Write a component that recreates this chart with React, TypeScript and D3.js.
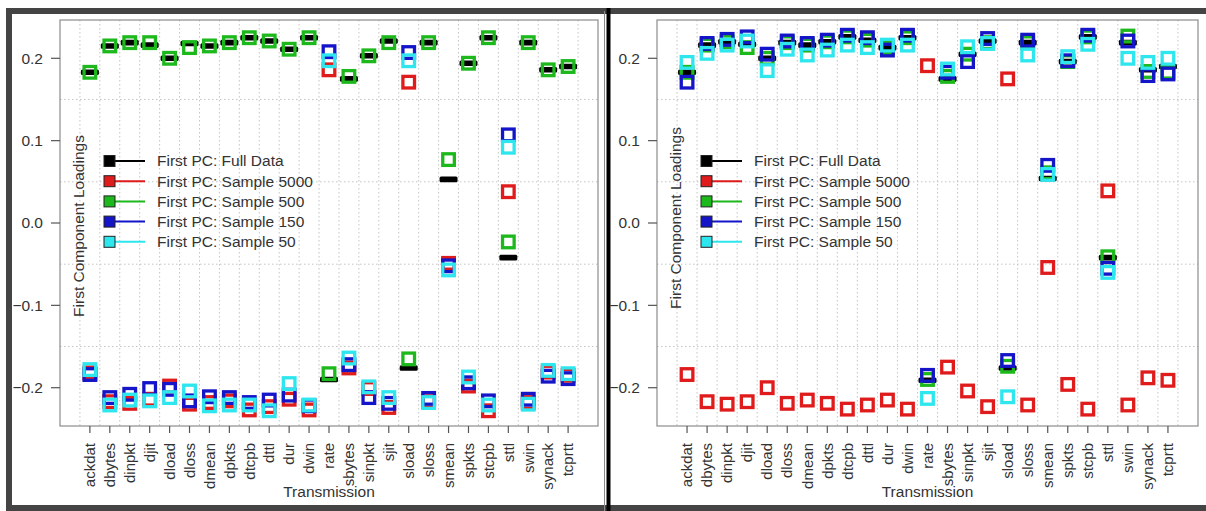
import React from 'react';
import * as d3 from 'd3';

// variable names on the x axis
const categories = [
  'ackdat', 'dbytes', 'dinpkt', 'djit', 'dload', 'dloss', 'dmean', 'dpkts', 'dtcpb',
  'dttl', 'dur', 'dwin', 'rate', 'sbytes', 'sinpkt', 'sjit', 'sload', 'sloss',
  'smean', 'spkts', 'stcpb', 'sttl', 'swin', 'synack', 'tcprtt',
];

const yTicks = [-0.2, -0.1, 0.0, 0.1, 0.2];
const yGrid = [-0.15, -0.05, 0.05, 0.15];

const seriesNames = [
  'First PC: Full Data',
  'First PC: Sample 5000',
  'First PC: Sample 500',
  'First PC: Sample 150',
  'First PC: Sample 50',
];
const seriesColors = ['#000000', '#e01b1b', '#1cb81c', '#1414c8', '#2de6ee'];

// left panel
const leftFull = [0.183, 0.215, 0.219, 0.216, 0.200, 0.218, 0.215, 0.219, 0.225, 0.221, 0.211, 0.225, -0.190, 0.175, 0.203, 0.221, -0.176, 0.219, 0.053, 0.194, 0.225, -0.042, 0.219, 0.186, 0.190];
const left5000 = [-0.182, -0.217, -0.219, -0.214, -0.198, -0.220, -0.218, -0.216, -0.227, -0.223, -0.214, -0.227, 0.186, -0.176, -0.201, -0.224, 0.171, -0.217, -0.049, -0.198, -0.228, 0.038, -0.218, -0.181, -0.185];
const left500 = [0.183, 0.215, 0.219, 0.219, 0.200, 0.213, 0.215, 0.219, 0.225, 0.221, 0.211, 0.225, -0.183, 0.178, 0.203, 0.219, -0.165, 0.219, 0.077, 0.194, 0.225, -0.023, 0.219, 0.186, 0.190];
const left150 = [-0.184, -0.212, -0.208, -0.201, -0.202, -0.216, -0.211, -0.212, -0.218, -0.215, -0.209, -0.222, 0.208, -0.172, -0.212, -0.219, 0.207, -0.213, -0.052, -0.194, -0.216, 0.107, -0.214, -0.186, -0.189];
const left50 = [-0.178, -0.221, -0.215, -0.216, -0.212, -0.204, -0.222, -0.221, -0.221, -0.228, -0.195, -0.221, 0.197, -0.164, -0.199, -0.212, 0.197, -0.218, -0.057, -0.187, -0.221, 0.092, -0.220, -0.179, -0.183];

// right panel
const rightFull = [0.183, 0.216, 0.220, 0.217, 0.200, 0.219, 0.216, 0.220, 0.226, 0.222, 0.213, 0.225, -0.191, 0.175, 0.205, 0.221, -0.176, 0.219, 0.054, 0.196, 0.226, -0.042, 0.219, 0.186, 0.190];
const right5000 = [-0.184, -0.217, -0.220, -0.217, -0.200, -0.219, -0.215, -0.219, -0.226, -0.221, -0.215, -0.226, 0.191, -0.175, -0.204, -0.223, 0.175, -0.221, -0.054, -0.196, -0.226, 0.039, -0.221, -0.188, -0.191];
const right500 = [0.183, 0.216, 0.220, 0.213, 0.200, 0.219, 0.216, 0.220, 0.226, 0.222, 0.213, 0.225, -0.190, 0.178, 0.205, 0.219, -0.174, 0.219, 0.061, 0.196, 0.226, -0.041, 0.227, 0.184, 0.183];
const right150 = [0.171, 0.218, 0.223, 0.226, 0.205, 0.221, 0.218, 0.222, 0.228, 0.225, 0.210, 0.228, -0.185, 0.183, 0.196, 0.224, -0.167, 0.222, 0.070, 0.197, 0.228, -0.055, 0.221, 0.179, 0.181];
const right50 = [0.195, 0.206, 0.216, 0.221, 0.185, 0.211, 0.204, 0.210, 0.216, 0.213, 0.216, 0.216, -0.213, 0.187, 0.214, 0.218, -0.211, 0.204, 0.059, 0.202, 0.217, -0.060, 0.200, 0.195, 0.200];

const FONT = '"Liberation Sans", Arial, sans-serif';

type PanelProps = {
  left: number;
  right: number;
  series: number[][];
  ylabY: number;
};

const Panel = ({ left, right, series, ylabY }: PanelProps) => {
  const top = 20;
  const bottom = 426;
  const x = d3.scaleLinear().domain([-1.5, 25.5]).range([left, right]);
  const y = d3.scaleLinear().domain([-0.2465, 0.2465]).range([bottom, top]);
  const vGrid = d3.range(-0.5, 25, 1);
  const tickFmt = d3.format('.1f');

  return (
    <g>
      {/* grid */}
      {vGrid.map((g) => (
        <line key={'v' + g} x1={x(g)} x2={x(g)} y1={top} y2={bottom}
          stroke="#c4c4c4" strokeWidth={1} strokeDasharray="1.5,2.5" />
      ))}
      {yGrid.map((g) => (
        <line key={'h' + g} x1={left} x2={right} y1={y(g)} y2={y(g)}
          stroke="#c4c4c4" strokeWidth={1} strokeDasharray="1.5,2.5" />
      ))}
      <rect x={left} y={top} width={right - left} height={bottom - top}
        fill="none" stroke="#8c8c8c" strokeWidth={1.2} />

      {/* y axis */}
      {yTicks.map((t) => (
        <g key={'yt' + t}>
          <line x1={left - 9} x2={left} y1={y(t)} y2={y(t)} stroke="#555" strokeWidth={1.2} />
          <text x={left - 17} y={y(t)} dy="0.35em" textAnchor="end" fontSize={15.5}
            fill="#333" fontFamily={FONT}>{tickFmt(t)}</text>
        </g>
      ))}
      <text transform={`translate(${left + 24},${ylabY}) rotate(-90)`} textAnchor="middle"
        fontSize={15.5} fill="#333" fontFamily={FONT}>First Component Loadings</text>

      {/* x axis */}
      {categories.map((c, i) => (
        <g key={'xt' + c}>
          <line x1={x(i)} x2={x(i)} y1={bottom} y2={bottom + 7} stroke="#555" strokeWidth={1.2} />
          <text transform={`translate(${x(i)},${bottom + 17}) rotate(-90)`} dy="0.35em"
            textAnchor="end" fontSize={15} fill="#333" fontFamily={FONT}>{c}</text>
        </g>
      ))}
      <text x={(left + right) / 2} y={497} textAnchor="middle" fontSize={15.5} fill="#333"
        fontFamily={FONT}>Transmission</text>

      {/* legend */}
      {seriesNames.map((n, k) => {
        const ly = 161 + k * 20.2;
        return (
          <g key={'lg' + k}>
            <line x1={left + 50} x2={left + 85} y1={ly} y2={ly} stroke={seriesColors[k]} strokeWidth={2} />
            <rect x={left + 44} y={ly - 5.5} width={11} height={11} fill={seriesColors[k]}
              stroke="#222" strokeWidth={1} />
            <text x={left + 97} y={ly} dy="0.35em" fontSize={15.5} fill="#333" fontFamily={FONT}>{n}</text>
          </g>
        );
      })}

      {/* full data: black bars */}
      {series[0].map((v, i) => (
        <rect key={'b' + i} x={x(i) - 9} y={y(v) - 2.8} width={18} height={5.6} rx={1.5} fill="#000" />
      ))}
      {/* samples: open squares */}
      {series.slice(1).map((vals, s) =>
        vals.map((v, i) => (
          <rect key={'s' + s + '-' + i} x={x(i) - 5.8} y={y(v) - 5.8} width={11.6} height={11.6}
            fill="none" stroke={seriesColors[s + 1]} strokeWidth={3.3} />
        ))
      )}
    </g>
  );
};

const App = () => {
  return (
    <svg width={1206} height={511} style={{ position: 'absolute', left: 0, top: 0, background: '#fff' }}>
      <rect x={0} y={0} width={1206} height={511} fill="#fff" />
      <Panel left={60} right={598} series={[leftFull, left5000, left500, left150, left50]} ylabY={226} />
      <Panel left={657} right={1198} series={[rightFull, right5000, right500, right150, right50]} ylabY={218} />
      {/* outer frame */}
      <rect x={9} y={11} width={1204} height={497} fill="none" stroke="#444" strokeWidth={6} />
      <line x1={604.5} x2={604.5} y1={11} y2={511} stroke="#888" strokeWidth={1} />
      <rect x={606.5} y={8} width={4} height={503} fill="#000" />
    </svg>
  );
};

export default App;
